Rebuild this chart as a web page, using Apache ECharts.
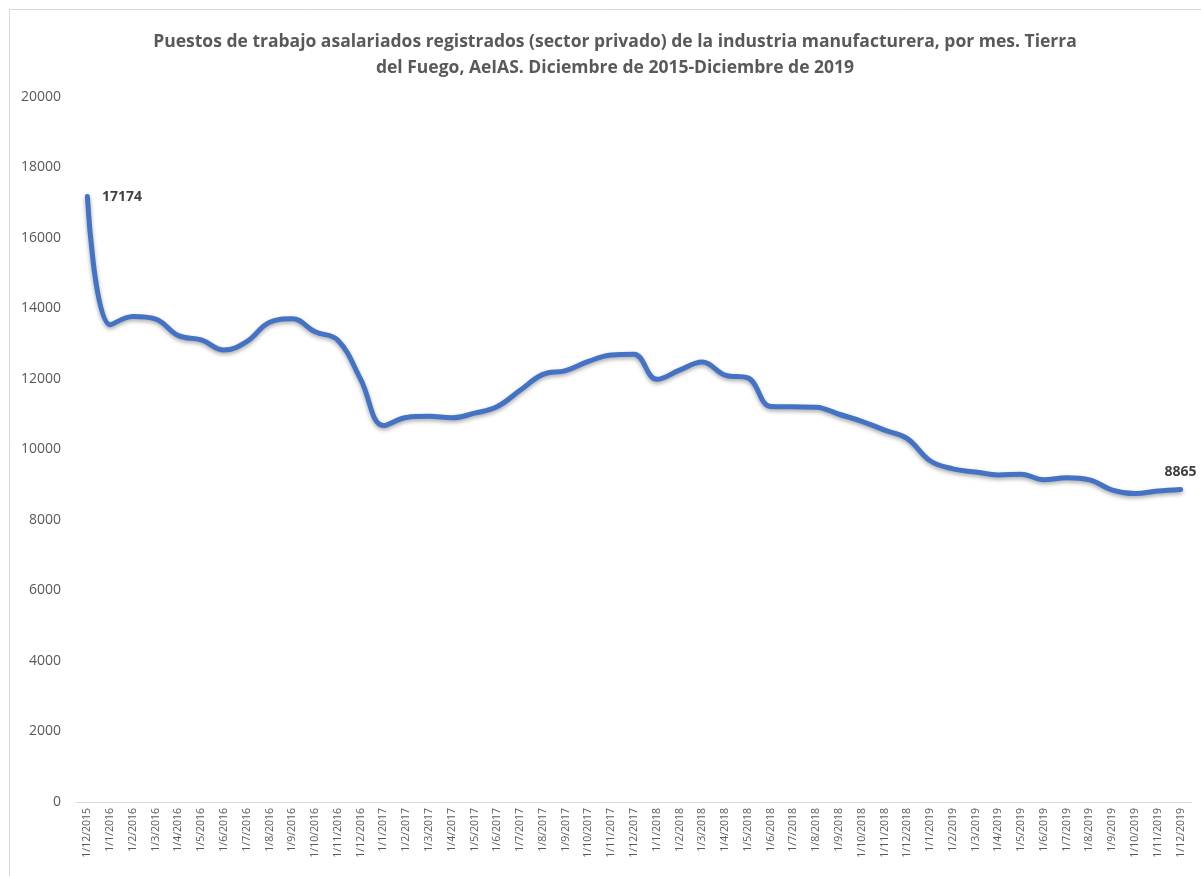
<!DOCTYPE html>
<html>
<head>
<meta charset="utf-8">
<script src="https://cdn.jsdelivr.net/npm/echarts@6/dist/echarts.min.js"></script>
<style>
  html, body { margin: 0; padding: 0; background: #fff; }
  #main { width: 1201px; height: 876px; }
</style>
</head>
<body>
<div id="main"></div>
<script>
// meses (eje X)
var categories = [
    '1/12/2015',
    '1/1/2016', '1/2/2016', '1/3/2016', '1/4/2016', '1/5/2016', '1/6/2016',
    '1/7/2016', '1/8/2016', '1/9/2016', '1/10/2016', '1/11/2016', '1/12/2016',
    '1/1/2017', '1/2/2017', '1/3/2017', '1/4/2017', '1/5/2017', '1/6/2017',
    '1/7/2017', '1/8/2017', '1/9/2017', '1/10/2017', '1/11/2017', '1/12/2017',
    '1/1/2018', '1/2/2018', '1/3/2018', '1/4/2018', '1/5/2018', '1/6/2018',
    '1/7/2018', '1/8/2018', '1/9/2018', '1/10/2018', '1/11/2018', '1/12/2018',
    '1/1/2019', '1/2/2019', '1/3/2019', '1/4/2019', '1/5/2019', '1/6/2019',
    '1/7/2019', '1/8/2019', '1/9/2019', '1/10/2019', '1/11/2019', '1/12/2019'
];

// puestos de trabajo asalariados registrados
var puestos = [
    17174,
    13540, 13770, 13700, 13230, 13110, 12820, 13060, 13610, 13710, 13340, 13100, 11990,
    10680, 10910, 10940, 10900, 11030, 11220, 11680, 12130, 12240, 12500, 12680, 12700,
    11990, 12250, 12480, 12110, 12030, 11220, 11210, 11200, 11000, 10800, 10550, 10310,
    9680, 9450, 9360, 9280, 9300, 9140, 9200, 9140, 8850, 8750, 8820, 8865
];

var yTicks = { min: 0, max: 20000, interval: 2000 };

var titulo = 'Puestos de trabajo asalariados registrados (sector privado) de la industria manufacturera, por mes. Tierra\n' +
    'del Fuego, AeIAS. Diciembre de 2015-Diciembre de 2019';

var myChart = echarts.init(document.getElementById('main'));

// solo se etiquetan el primer y el último valor
var serieData = puestos.map(function (v, i) {
    if (i === 0) {
        return { value: v, label: { show: true, position: 'right', distance: 14 } };
    }
    if (i === puestos.length - 1) {
        return { value: v, label: { show: true, position: 'top', distance: 10 } };
    }
    return v;
});

var option = {
    backgroundColor: '#ffffff',
    animation: false,
    title: {
        text: titulo,
        left: 610,
        textAlign: 'center',
        top: 24,
        textStyle: {
            fontFamily: 'Open Sans',
            fontSize: 17.5,
            fontWeight: 'bold',
            color: '#595959',
            lineHeight: 26
        }
    },
    graphic: [{
        type: 'rect',
        shape: { x: 9.5, y: 9.5, width: 1200, height: 880 },
        style: { fill: 'none', stroke: '#d9d9d9', lineWidth: 1 },
        silent: true
    }],
    grid: { left: 76, right: 9, top: 97, bottom: 74 },
    xAxis: {
        type: 'category',
        data: categories,
        boundaryGap: true,
        axisLine: { lineStyle: { color: '#d9d9d9', width: 1 } },
        axisTick: { show: false },
        axisLabel: {
            interval: 0,
            rotate: 90,
            margin: 6,
            fontFamily: 'Open Sans',
            fontSize: 10.5,
            color: '#595959'
        }
    },
    yAxis: {
        type: 'value',
        min: yTicks.min,
        max: yTicks.max,
        interval: yTicks.interval,
        axisLine: { show: false },
        axisTick: { show: false },
        splitLine: { show: false },
        axisLabel: {
            margin: 15,
            fontFamily: 'Open Sans',
            fontSize: 14,
            color: '#595959',
            formatter: function (v) { return String(v); }
        }
    },
    series: [{
        name: 'Puestos',
        type: 'line',
        data: serieData,
        smooth: 0.4,
        symbol: 'circle',
        symbolSize: 1,
        showSymbol: true,
        itemStyle: { color: 'rgba(68,114,196,0)' },
        lineStyle: {
            color: '#4472c4',
            width: 5,
            cap: 'round',
            shadowColor: 'rgba(0,0,0,0.35)',
            shadowBlur: 4,
            shadowOffsetY: 2
        },
        label: {
            fontFamily: 'Open Sans',
            fontSize: 14,
            fontWeight: 'bold',
            color: '#404040'
        }
    }]
};

myChart.setOption(option);
</script>
</body>
</html>
